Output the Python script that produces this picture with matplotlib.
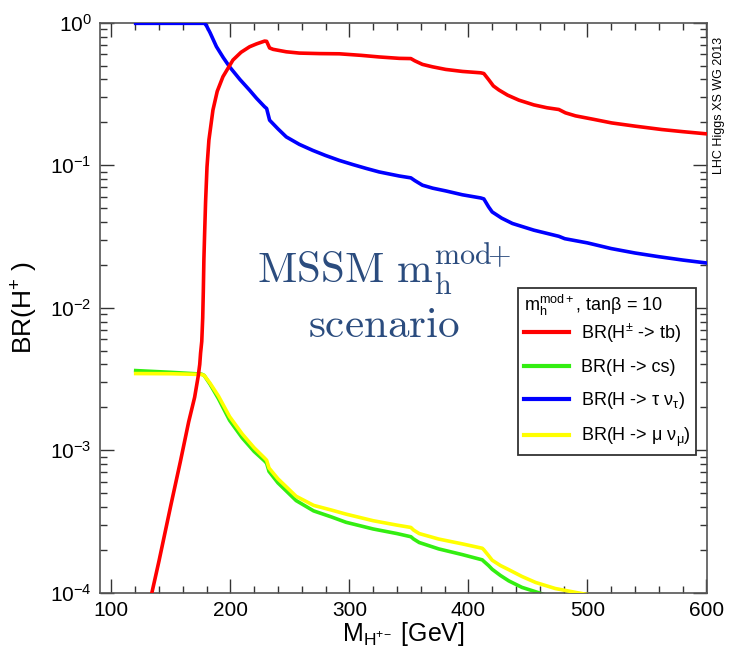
import math
import matplotlib
matplotlib.use("Agg")
import matplotlib.pyplot as plt
from matplotlib.ticker import FixedLocator, FuncFormatter, LogLocator, NullFormatter

plt.rcParams['font.family'] = ['Liberation Sans', 'DejaVu Sans']
plt.rcParams['mathtext.fontset'] = 'custom'
plt.rcParams['mathtext.rm'] = 'Liberation Sans'
plt.rcParams['mathtext.it'] = 'Liberation Sans:italic'
plt.rcParams['mathtext.bf'] = 'Liberation Sans:bold'
plt.rcParams['mathtext.sf'] = 'Liberation Sans'

# ---------------- data ----------------
m_tb = [133.5, 140, 150, 158, 165, 170, 173, 174.3, 175, 176.0, 176.8, 177.3, 177.8, 178.4,
        179.2, 180.4, 182, 185.4, 189, 193.8, 202.2, 209, 216.2, 222, 228.8, 230.5, 233,
        236, 247, 258, 275, 291.6, 310, 325, 342, 351.7, 355, 361.4, 370, 381, 395, 410.4,
        413, 417.4, 421, 425.7, 433, 442.5, 455, 466, 476, 481.6, 490, 505, 520.4, 540,
        562.4, 580, 600]
br_tb = [0.95e-4, 1.66e-4, 4.1e-4, 8.3e-4, 1.58e-3, 2.35e-3, 3.3e-3, 4.0e-3, 4.8e-3, 5.8e-3,
         8.5e-3, 0.013, 0.022, 0.033, 0.055, 0.097, 0.15, 0.244, 0.33, 0.418, 0.547, 0.62,
         0.678, 0.71, 0.743, 0.74, 0.665, 0.65, 0.625, 0.612, 0.607, 0.605, 0.59, 0.575,
         0.562, 0.56, 0.54, 0.51, 0.49, 0.47, 0.455, 0.445, 0.44, 0.395, 0.36, 0.337, 0.31,
         0.286, 0.265, 0.253, 0.246, 0.233, 0.222, 0.21, 0.198, 0.188, 0.178, 0.172, 0.166]

m_tau = [120.5, 150, 178.4, 180, 183, 188.3, 194, 199.4, 208, 216.2, 222, 228.8, 230.5, 233,
         240, 247, 258, 269.3, 280, 291.6, 303, 314, 325, 341.9, 351.7, 355, 361.4, 370, 381,
         395, 410.4, 413, 417, 420, 428, 437, 455, 476, 481, 500, 520, 540, 560, 580, 600]
br_tau = [0.99, 0.99, 0.99, 0.95, 0.85, 0.68, 0.57, 0.49, 0.40, 0.336, 0.295, 0.257, 0.25,
          0.207, 0.18, 0.158, 0.14, 0.127, 0.117, 0.108, 0.101, 0.095, 0.0897, 0.084, 0.0815,
          0.078, 0.0724, 0.069, 0.066, 0.062, 0.0589, 0.058, 0.051, 0.047, 0.0425, 0.039,
          0.035, 0.0317, 0.0305, 0.0285, 0.026, 0.0242, 0.0228, 0.0216, 0.0206]

m_cs = [120.5, 150, 175.7, 178, 183, 190, 199.4, 210, 220, 228.8, 230.5, 232.5, 240, 255.3,
        270, 285, 297.2, 320, 340, 351.7, 354, 358.7, 375, 395, 411.7, 413, 417, 420, 427,
        434, 445, 459, 470]
br_cs = [3.62e-3, 3.52e-3, 3.42e-3, 3.35e-3, 2.9e-3, 2.3e-3, 1.62e-3, 1.22e-3, 9.8e-4,
         8.4e-4, 8.1e-4, 7.1e-4, 5.9e-4, 4.43e-4, 3.75e-4, 3.4e-4, 3.12e-4, 2.8e-4, 2.6e-4,
         2.47e-4, 2.38e-4, 2.25e-4, 2.03e-4, 1.85e-4, 1.7e-4, 1.66e-4, 1.55e-4, 1.46e-4,
         1.32e-4, 1.21e-4, 1.09e-4, 1.0e-4, 0.93e-4]

m_mu = [120.5, 150, 175.7, 178, 183, 190, 199.4, 210, 220, 228.8, 230.5, 232.5, 240, 255.3,
        270, 285, 297.2, 320, 340, 351.7, 354, 358.7, 375, 395, 411.7, 413, 417, 420, 427,
        434, 445, 456.5, 473, 491.5, 500]
br_mu = [3.45e-3, 3.44e-3, 3.40e-3, 3.35e-3, 2.95e-3, 2.4e-3, 1.72e-3, 1.3e-3, 1.04e-3,
         8.8e-4, 8.5e-4, 7.5e-4, 6.3e-4, 4.75e-4, 4.1e-4, 3.8e-4, 3.56e-4, 3.2e-4, 2.98e-4,
         2.87e-4, 2.75e-4, 2.6e-4, 2.38e-4, 2.2e-4, 2.05e-4, 2.0e-4, 1.82e-4, 1.69e-4,
         1.55e-4, 1.45e-4, 1.3e-4, 1.18e-4, 1.07e-4, 1.0e-4, 0.97e-4]

labels = [r"BR(H$^{\pm}$ -> tb)", "BR(H -> cs)",
          r"BR(H -> τ ν$_{\mathrm{\tau}}$)", r"BR(H -> μ ν$_{\mathrm{\mu}}$)"]
colors = ["#ff0000", "#33ee11", "#0000ff", "#ffff00"]
x_ticks = [100, 200, 300, 400, 500, 600]
y_ticks = [1e-4, 1e-3, 1e-2, 1e-1, 1]

# ---------------- figure ----------------
fig = plt.figure(figsize=(7.34, 6.51), dpi=100)
ax = fig.add_axes([100 / 734, 1 - 592.7 / 651, 607 / 734, 570 / 651])

lw = 2.6
l_tb, = ax.plot(m_tb, br_tb, color=colors[0], lw=lw, zorder=5, label=labels[0])
l_cs, = ax.plot(m_cs, br_cs, color=colors[1], lw=lw, zorder=2, label=labels[1])
l_tau, = ax.plot(m_tau, br_tau, color=colors[2], lw=lw, zorder=4, label=labels[2])
l_mu, = ax.plot(m_mu, br_mu, color=colors[3], lw=lw, zorder=3, label=labels[3])

ax.set_yscale('log')
ax.set_xlim(90.5, 600.5)
ax.set_ylim(1e-4, 1)

ax.xaxis.set_major_locator(FixedLocator(x_ticks))
ax.xaxis.set_minor_locator(FixedLocator([v for v in range(100, 601, 20) if v % 100]))
ax.yaxis.set_major_locator(FixedLocator(y_ticks))
ax.yaxis.set_minor_locator(LogLocator(base=10, subs=range(2, 10)))
ax.yaxis.set_minor_formatter(NullFormatter())
ax.yaxis.set_major_formatter(FuncFormatter(lambda v, p: r"$\mathregular{10^{%d}}$" % round(math.log10(v))))

ax.tick_params(which='both', direction='in', top=True, right=True, color='#333333', width=1.0)
ax.tick_params(which='major', length=10, labelsize=15, pad=6)
ax.tick_params(which='minor', length=5)
for s in ax.spines.values():
    s.set_color('#555555')
    s.set_linewidth(1.2)

ax.set_xlabel(r"M$_{\mathrm{H}^{+\!-}}$ [GeV]", fontsize=18, labelpad=0)
ax.set_ylabel(r"BR(H$^{+}$ )", fontsize=19)
ax.yaxis.set_label_coords(-(100 - 40) / 607, 0.5)

leg = ax.legend(handles=[l_tb, l_cs, l_tau, l_mu], loc='upper left',
                bbox_to_anchor=(0.689, 0.5346), fontsize=13,
                title=r"m$_{\mathrm{h}}^{\mathrm{mod+}}$, tanβ = 10", title_fontsize=13,
                alignment='left', fancybox=False, framealpha=1, edgecolor='#333333',
                handlelength=2.5, handletextpad=0.65, labelspacing=0.8, borderpad=0.3,
                borderaxespad=0)
leg._legend_box.sep = 2
leg.get_frame().set_linewidth(1.3)
for h in leg.legend_handles:
    h.set_linewidth(3)

ax.text(0.468, 0.567, r"$\mathrm{MSSM\ m_h^{mod\!\!+}}$", transform=ax.transAxes,
        math_fontfamily='cm', fontsize=31, color='#2b4c7e', ha='center', va='center')
ax.text(0.468, 0.468, r"$\mathrm{scenario}$", transform=ax.transAxes,
        math_fontfamily='cm', fontsize=31, color='#2b4c7e', ha='center', va='center')

fig.text(719 / 734, 1 - 105 / 651, "LHC Higgs XS WG 2013", rotation=90, fontsize=9,
         family=['Liberation Sans', 'DejaVu Sans'], ha='center', va='center')

fig.savefig("out.png", dpi=100)
